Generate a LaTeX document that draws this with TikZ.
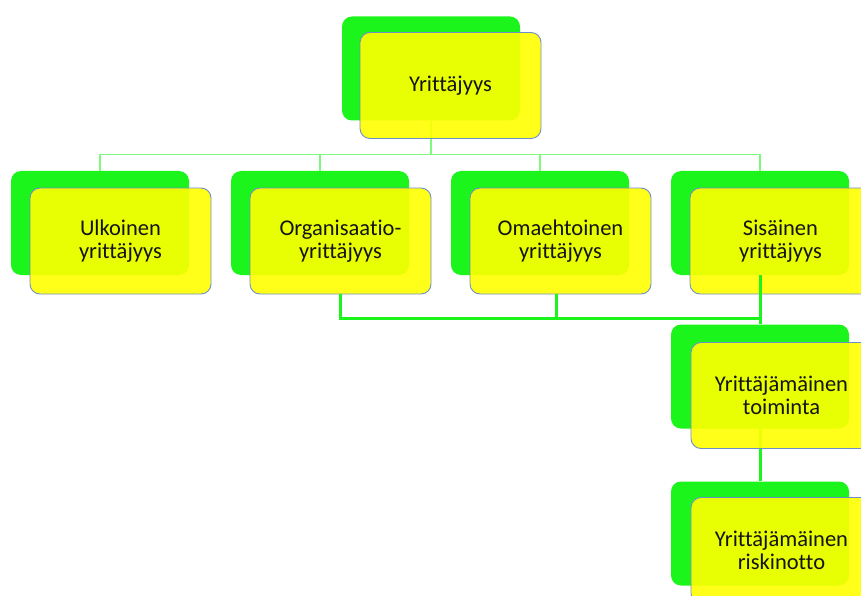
\documentclass[tikz,border=0pt]{standalone}
\usepackage{fontspec}
\setmainfont{Carlito}[Ligatures={NoCommon}]
\begin{document}
\begin{tikzpicture}[x=1pt,y=-1pt,
  backbox/.style={draw=none, fill=boxgreen, rounded corners=10pt,
    minimum width=178pt, minimum height=104pt, inner sep=0pt},
  frontbox/.style={draw=boxedge, line width=0.9pt, fill=boxyellow, fill opacity=0.9,
    text opacity=1, rounded corners=10pt, minimum width=181pt, minimum height=106pt,
    inner sep=0pt, align=center, text=black!92, font=\fontsize{22.5}{23}\selectfont},
  thinlink/.style={draw=linkgreen, line width=1.5pt},
  thicklink/.style={draw=boxgreen, line width=3pt}]
\definecolor{boxgreen}{RGB}{28,245,28}
\definecolor{boxyellow}{RGB}{255,255,0}
\definecolor{boxedge}{RGB}{110,142,200}
\definecolor{linkgreen}{RGB}{125,250,125}
\useasboundingbox (0,0) rectangle (861,596);

% green backing panels
\node[backbox] (g0) at (431,68.5) {};
\node[backbox] (g1) at (100,223) {};
\node[backbox] (g2) at (320,223) {};
\node[backbox] (g3) at (540,223) {};
\node[backbox] (g4) at (760,223) {};
\node[backbox] (g5) at (760,376.5) {};
\node[backbox] (g6) at (760,533.5) {};

% thin tree from the top panel to the four panels below
\draw[thinlink] (g0.south) -- ++(0,34) coordinate (hub);
\draw[thinlink] (hub) -| (g1.north);
\draw[thinlink] (hub) -| (g2.north);
\draw[thinlink] (hub) -| (g3.north);
\draw[thinlink] (hub) -| (g4.north);

% yellow front cards
\node[frontbox] (y0) at (450.5,85.5) {Yrittäjyys};
\node[frontbox] (y1) at (120.5,241) {Ulkoinen\\yrittäjyys};
\node[frontbox] (y2) at (340.5,241) {Organisaatio-\\yrittäjyys};
\node[frontbox] (y3) at (560.5,241) {Omaehtoinen\\yrittäjyys};
\node[frontbox] (y4) at (780.5,241) {Sisäinen\\yrittäjyys};

% thick joins into the lower chain
\coordinate (jn) at (760,318);
\draw[thicklink] (y2.south) |- (jn) -- (g5.north);
\draw[thicklink] ([xshift=-4.5pt]y3.south) -- ([xshift=-4.5pt]y3.south |- jn);
\draw[thicklink] (g4.south) -- (jn);
\draw[thicklink] (g5.south) -- (g6.north);

\node[frontbox] (y5) at (781.5,395.5) {Yrittäjämäinen\\toiminta};
\node[frontbox] (y6) at (781.5,550.5) {Yrittäjämäinen\\riskinotto};
\end{tikzpicture}
\end{document}
